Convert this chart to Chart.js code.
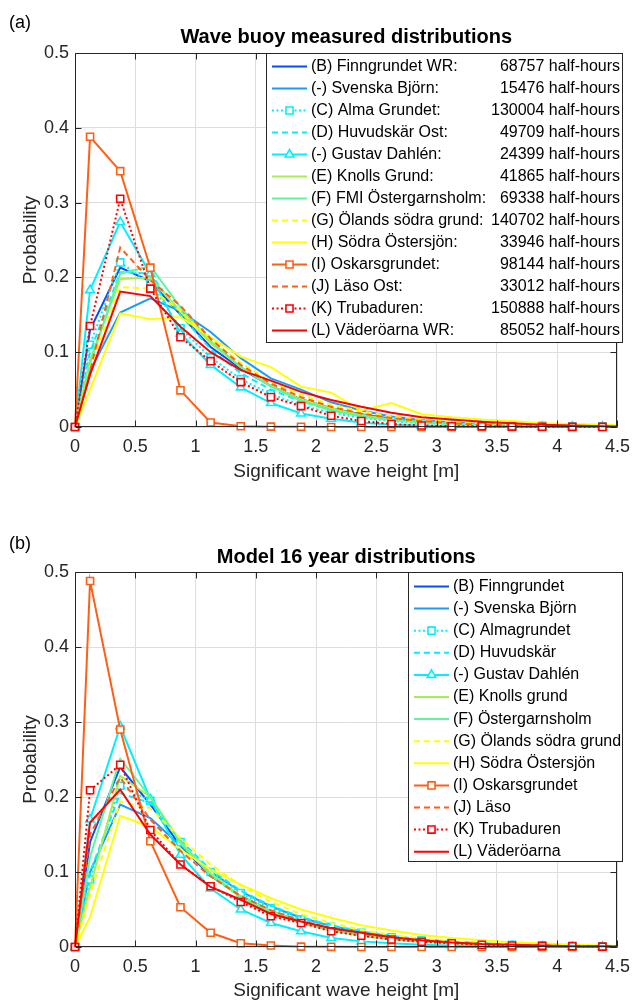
<!DOCTYPE html>
<html>
<head>
<meta charset="utf-8">
<script src="https://cdn.jsdelivr.net/npm/chart.js@4.4.1/dist/chart.umd.min.js"></script>
<style>
  html, body { margin: 0; padding: 0; background: #fff; }
  #wrap { position: relative; width: 639px; height: 1003px; }
  .panel { position: absolute; left: 0; width: 639px; }
</style>
</head>
<body>
<div id="wrap">
  <div class="panel" style="top:0;height:500px"><canvas id="chartA"></canvas></div>
  <div class="panel" style="top:500px;height:503px"><canvas id="chartB"></canvas></div>
</div>
<script>
// bin centres of significant wave height [m]
const heightBins = [0, 0.125, 0.375, 0.625, 0.875, 1.125, 1.375, 1.625, 1.875, 2.125, 2.375, 2.625, 2.875, 3.125, 3.375, 3.625, 3.875, 4.125, 4.375, 4.625];
const xTicks = [0, 0.5, 1, 1.5, 2, 2.5, 3, 3.5, 4, 4.5];
const yTicks = [0, 0.1, 0.2, 0.3, 0.4, 0.5];

// (a) wave buoy measurements
const measNames = ["(B) Finngrundet WR:", "(-) Svenska Björn:", "(C) Alma Grundet:", "(D) Huvudskär Ost:", "(-) Gustav Dahlén:", "(E) Knolls Grund:", "(F) FMI Östergarnsholm:", "(G) Ölands södra grund:", "(H) Södra Östersjön:", "(I) Oskarsgrundet:", "(J) Läso Ost:", "(K) Trubaduren:", "(L) Väderöarna WR:"];
const measCounts = ["68757 half-hours", "15476 half-hours", "130004 half-hours", "49709 half-hours", "24399 half-hours", "41865 half-hours", "69338 half-hours", "140702 half-hours", "33946 half-hours", "98144 half-hours", "33012 half-hours", "150888 half-hours", "85052 half-hours"];

const measFinngrundet = [0, 0.130, 0.213, 0.195, 0.150, 0.107, 0.078, 0.055, 0.037, 0.025, 0.017, 0.011, 0.007, 0.005, 0.003, 0.002, 0.0015, 0.001, 0.0005, 0.0003];
const measSvenska     = [0, 0.075, 0.153, 0.172, 0.155, 0.127, 0.092, 0.065, 0.050, 0.033, 0.022, 0.014, 0.009, 0.006, 0.004, 0.003, 0.002, 0.001, 0.001, 0.0005];
const measAlma        = [0, 0.110, 0.220, 0.192, 0.132, 0.093, 0.064, 0.044, 0.029, 0.019, 0.012, 0.008, 0.005, 0.004, 0.003, 0.002, 0.0015, 0.001, 0.001, 0.0005];
const measHuvudskar   = [0, 0.100, 0.207, 0.205, 0.150, 0.104, 0.072, 0.050, 0.034, 0.023, 0.015, 0.010, 0.007, 0.005, 0.003, 0.002, 0.0015, 0.001, 0.0005, 0.0003];
const measGustav      = [0, 0.183, 0.274, 0.205, 0.125, 0.083, 0.053, 0.032, 0.018, 0.011, 0.006, 0.003, 0.002, 0.001, 0.001, 0.0005, 0.0003, 0.0002, 0.0001, 0];
const measKnolls      = [0, 0.090, 0.198, 0.200, 0.155, 0.112, 0.080, 0.055, 0.037, 0.025, 0.016, 0.010, 0.007, 0.004, 0.003, 0.002, 0.001, 0.001, 0.0005, 0.0003];
const measOstergarn   = [0, 0.085, 0.205, 0.215, 0.160, 0.115, 0.080, 0.054, 0.035, 0.022, 0.014, 0.009, 0.006, 0.004, 0.002, 0.0015, 0.001, 0.0005, 0.0003, 0.0002];
const measOlands      = [0, 0.080, 0.187, 0.185, 0.155, 0.117, 0.086, 0.061, 0.043, 0.030, 0.021, 0.014, 0.010, 0.007, 0.005, 0.003, 0.002, 0.0015, 0.001, 0.0005];
const measSodra       = [0, 0.050, 0.152, 0.144, 0.147, 0.120, 0.094, 0.080, 0.054, 0.046, 0.022, 0.032, 0.017, 0.013, 0.010, 0.008, 0.005, 0.004, 0.003, 0.002];
const measOskars      = [0, 0.388, 0.342, 0.213, 0.049, 0.006, 0.001, 0.0005, 0.0002, 0, 0, 0, 0, 0, 0, 0, 0, 0, 0, 0];
const measLaso        = [0, 0.075, 0.240, 0.196, 0.162, 0.118, 0.083, 0.058, 0.040, 0.027, 0.018, 0.012, 0.008, 0.005, 0.003, 0.002, 0.001, 0.001, 0.0005, 0.0003];
const measTrubaduren  = [0, 0.135, 0.305, 0.185, 0.120, 0.088, 0.060, 0.040, 0.028, 0.015, 0.008, 0.004, 0.002, 0.001, 0.001, 0.0005, 0.0003, 0.0002, 0.0001, 0];
const measVaderoarna  = [0, 0.070, 0.181, 0.175, 0.134, 0.100, 0.076, 0.062, 0.047, 0.036, 0.027, 0.019, 0.013, 0.010, 0.007, 0.005, 0.003, 0.002, 0.001, 0.0005];

// (b) model, 16 years
const modelNames = ["(B) Finngrundet", "(-) Svenska Björn", "(C) Almagrundet", "(D) Huvudskär", "(-) Gustav Dahlén", "(E) Knolls grund", "(F) Östergarnsholm", "(G) Ölands södra grund", "(H) Södra Östersjön", "(I) Oskarsgrundet", "(J) Läso", "(K) Trubaduren", "(L) Väderöarna"];

const modelFinngrundet = [0, 0.140, 0.240, 0.190, 0.135, 0.095, 0.068, 0.048, 0.034, 0.024, 0.017, 0.012, 0.008, 0.006, 0.004, 0.003, 0.002, 0.0015, 0.001, 0.0005];
const modelSvenska     = [0, 0.100, 0.190, 0.172, 0.135, 0.100, 0.074, 0.054, 0.039, 0.028, 0.020, 0.014, 0.010, 0.007, 0.005, 0.003, 0.002, 0.0015, 0.001, 0.0005];
const modelAlma        = [0, 0.090, 0.215, 0.195, 0.140, 0.100, 0.072, 0.052, 0.037, 0.027, 0.019, 0.013, 0.009, 0.006, 0.004, 0.003, 0.002, 0.0015, 0.001, 0.0005];
const modelHuvudskar   = [0, 0.100, 0.205, 0.192, 0.142, 0.103, 0.075, 0.055, 0.040, 0.029, 0.021, 0.015, 0.010, 0.007, 0.005, 0.003, 0.002, 0.0015, 0.001, 0.0005];
const modelGustav      = [0, 0.170, 0.294, 0.197, 0.123, 0.078, 0.050, 0.032, 0.021, 0.012, 0.0075, 0.005, 0.003, 0.002, 0.001, 0.001, 0.0005, 0.0003, 0.0002, 0.0001];
const modelKnolls      = [0, 0.080, 0.228, 0.200, 0.140, 0.098, 0.068, 0.048, 0.034, 0.024, 0.017, 0.011, 0.008, 0.005, 0.004, 0.002, 0.0015, 0.001, 0.0005, 0.0003];
const modelOstergarn   = [0, 0.120, 0.251, 0.200, 0.138, 0.096, 0.066, 0.046, 0.032, 0.022, 0.015, 0.010, 0.007, 0.005, 0.003, 0.002, 0.0015, 0.001, 0.0005, 0.0003];
const modelOlands      = [0, 0.070, 0.194, 0.185, 0.145, 0.110, 0.082, 0.060, 0.044, 0.032, 0.023, 0.016, 0.011, 0.008, 0.005, 0.004, 0.003, 0.002, 0.001, 0.0005];
const modelSodra       = [0, 0.040, 0.175, 0.160, 0.130, 0.103, 0.083, 0.065, 0.050, 0.039, 0.029, 0.022, 0.016, 0.012, 0.009, 0.006, 0.005, 0.003, 0.002, 0.001];
const modelOskars      = [0, 0.488, 0.290, 0.141, 0.053, 0.019, 0.005, 0.002, 0.0005, 0.0002, 0, 0, 0, 0, 0, 0, 0, 0, 0, 0];
const modelLaso        = [0, 0.150, 0.226, 0.170, 0.128, 0.094, 0.068, 0.049, 0.035, 0.025, 0.018, 0.012, 0.009, 0.006, 0.004, 0.003, 0.002, 0.001, 0.001, 0.0005];
const modelTrubaduren  = [0, 0.209, 0.243, 0.156, 0.110, 0.081, 0.060, 0.041, 0.032, 0.021, 0.015, 0.010, 0.007, 0.005, 0.003, 0.002, 0.0015, 0.001, 0.0005, 0.0003];
const modelVaderoarna  = [0, 0.166, 0.210, 0.150, 0.110, 0.080, 0.063, 0.044, 0.034, 0.025, 0.019, 0.013, 0.009, 0.006, 0.004, 0.003, 0.002, 0.001, 0.001, 0.0005];

const measSeries = [measFinngrundet, measSvenska, measAlma, measHuvudskar, measGustav, measKnolls, measOstergarn, measOlands, measSodra, measOskars, measLaso, measTrubaduren, measVaderoarna];
const modelSeries = [modelFinngrundet, modelSvenska, modelAlma, modelHuvudskar, modelGustav, modelKnolls, modelOstergarn, modelOlands, modelSodra, modelOskars, modelLaso, modelTrubaduren, modelVaderoarna];

// per-station line style (same in both panels)
const lineColors = ["#0050ff", "#1a9cff", "#00f0ff", "#00f0ff", "#00f0ff", "#a6ef4e", "#5ff59c", "#ffff00", "#ffff00", "#ff5f14", "#ff5f14", "#ff0000", "#ff0000"];
const DOT = [2, 2.5], DASH = [6, 4];
const lineDash = [[], [], DOT, DASH, [], [], [], DASH, [], [], DASH, DOT, []];
const markers = [null, null, "rect", null, "triangle", null, null, null, null, "rect", null, "rect", null];

const FONT = "'Liberation Sans', Arial, Helvetica, sans-serif";
const AXIS = "#262626";
const GRID = "#dedede";
Chart.defaults.font.family = FONT;

function markerRadius(style) {
  return style === "triangle" ? 5 : 5;
}

function buildDatasets(series) {
  return series.map((vals, i) => ({
    data: vals.map((v, k) => ({ x: heightBins[k], y: v })),
    borderColor: lineColors[i],
    borderWidth: 2,
    borderDash: lineDash[i],
    pointStyle: markers[i] || "circle",
    pointRadius: markers[i] ? markerRadius(markers[i]) : 0,
    pointBorderColor: lineColors[i],
    pointBackgroundColor: "#ffffff",
    pointBorderWidth: 1.6,
    pointHoverRadius: 0,
    tension: 0,
    fill: false,
    order: series.length - i,
    clip: { left: 8, top: 8, right: 0, bottom: 8 },
  }));
}

// axes box with inward ticks, like the original figure
const frameBox = {
  id: "frameBox",
  afterDatasetsDraw(chart) {
    const { ctx, chartArea: a, scales } = chart;
    const L = Math.round(a.left) + 0.5, R = Math.round(a.right) - 0.5;
    const T = Math.round(a.top) + 0.5, B = Math.round(a.bottom) - 0.5;
    const tl = 6;
    ctx.save();
    ctx.strokeStyle = AXIS;
    ctx.lineWidth = 1;
    ctx.beginPath();
    ctx.rect(L, T, R - L, B - T);
    xTicks.forEach(v => {
      const px = Math.round(scales.x.getPixelForValue(v)) + 0.5;
      ctx.moveTo(px, B); ctx.lineTo(px, B - tl);
      ctx.moveTo(px, T); ctx.lineTo(px, T + tl);
    });
    yTicks.forEach(v => {
      const py = Math.round(scales.y.getPixelForValue(v)) + 0.5;
      ctx.moveTo(L, py); ctx.lineTo(L + tl, py);
      ctx.moveTo(R, py); ctx.lineTo(R - tl, py);
    });
    ctx.stroke();
    ctx.restore();
  },
};

// boxed legend inside the axes
const boxLegend = {
  id: "boxLegend",
  afterDatasetsDraw(chart, args, o) {
    const ctx = chart.ctx;
    ctx.save();
    ctx.fillStyle = "#ffffff";
    ctx.fillRect(o.left, o.top, o.right - o.left, o.bottom - o.top);
    ctx.strokeStyle = AXIS;
    ctx.lineWidth = 1;
    ctx.strokeRect(o.left + 0.5, o.top + 0.5, o.right - o.left - 1, o.bottom - o.top - 1);
    ctx.font = "16px " + FONT;
    ctx.textBaseline = "middle";
    o.names.forEach((name, i) => {
      const y = o.firstRow + i * o.rowH;
      ctx.strokeStyle = lineColors[i];
      ctx.lineWidth = 2;
      ctx.setLineDash(lineDash[i]);
      ctx.beginPath();
      ctx.moveTo(o.sampleX0, y);
      ctx.lineTo(o.sampleX1, y);
      ctx.stroke();
      ctx.setLineDash([]);
      if (markers[i]) {
        ctx.fillStyle = "#ffffff";
        ctx.lineWidth = 1.6;
        Chart.helpers.drawPoint(ctx, { pointStyle: markers[i], radius: markerRadius(markers[i]), rotation: 0, borderWidth: 1.6 }, (o.sampleX0 + o.sampleX1) / 2, y);
      }
      ctx.fillStyle = "#000000";
      ctx.textAlign = "left";
      ctx.fillText(name, o.textX, y);
      if (o.counts) {
        ctx.textAlign = "right";
        ctx.fillText(o.counts[i], o.countX, y);
      }
    });
    ctx.restore();
  },
};

// panel letter and bold title over the axes
const panelText = {
  id: "panelText",
  afterDraw(chart, args, o) {
    const { ctx, chartArea: a } = chart;
    ctx.save();
    ctx.fillStyle = "#000000";
    ctx.textBaseline = "middle";
    ctx.textAlign = "left";
    ctx.font = "18px " + FONT;
    ctx.fillText(o.letter, 9, o.letterY);
    ctx.textAlign = "center";
    ctx.font = "bold 20px " + FONT;
    ctx.fillText(o.title, (a.left + a.right) / 2, o.titleY);
    ctx.restore();
  },
};

function makePanel(canvasId, series, cfg) {
  return new Chart(document.getElementById(canvasId), {
    type: "line",
    data: { datasets: buildDatasets(series) },
    plugins: [frameBox, boxLegend, panelText],
    options: {
      responsive: true,
      maintainAspectRatio: false,
      animation: false,
      events: [],
      layout: { padding: { top: cfg.padTop, right: 15, bottom: 0, left: 0 } },
      plugins: {
        legend: { display: false },
        tooltip: { enabled: false },
        boxLegend: cfg.legend,
        panelText: cfg.text,
      },
      scales: {
        x: {
          type: "linear",
          min: 0,
          max: 4.5,
          afterBuildTicks: s => { s.ticks = xTicks.map(v => ({ value: v })); },
          ticks: { color: AXIS, font: { size: 18 }, padding: 9, maxRotation: 0, autoSkip: false, callback: v => String(v) },
          grid: { color: GRID, drawTicks: false },
          border: { display: false },
          title: { display: true, text: "Significant wave height [m]", color: AXIS, font: { size: 19 }, padding: { top: 0, bottom: cfg.xTitlePad } },
          afterFit: s => { s.height = cfg.xScaleH; },
        },
        y: {
          min: 0,
          max: 0.5,
          afterBuildTicks: s => { s.ticks = yTicks.map(v => ({ value: v })); },
          ticks: { color: AXIS, font: { size: 18 }, padding: 6, callback: v => String(+v.toFixed(1)) },
          grid: { color: GRID, drawTicks: false },
          border: { display: false },
          title: { display: true, text: "Probability", color: AXIS, font: { size: 19 }, padding: { top: 19, bottom: 0 } },
          afterFit: s => { s.width = 75; },
        },
      },
    },
  });
}

makePanel("chartA", measSeries, {
  padTop: 53, xScaleH: 73, xTitlePad: 17,
  text: { letter: "(a)", letterY: 23, title: "Wave buoy measured distributions", titleY: 37 },
  legend: { names: measNames, counts: measCounts, left: 266, top: 53, right: 623, bottom: 343, sampleX0: 272, sampleX1: 307, textX: 311, countX: 620, firstRow: 66.5, rowH: 22 },
});

makePanel("chartB", modelSeries, {
  padTop: 72, xScaleH: 56, xTitlePad: 1,
  text: { letter: "(b)", letterY: 44, title: "Model 16 year distributions", titleY: 57 },
  legend: { names: modelNames, counts: null, left: 408, top: 72, right: 623, bottom: 362, sampleX0: 414, sampleX1: 449, textX: 453, firstRow: 86.5, rowH: 22.1 },
});
</script>
</body>
</html>
